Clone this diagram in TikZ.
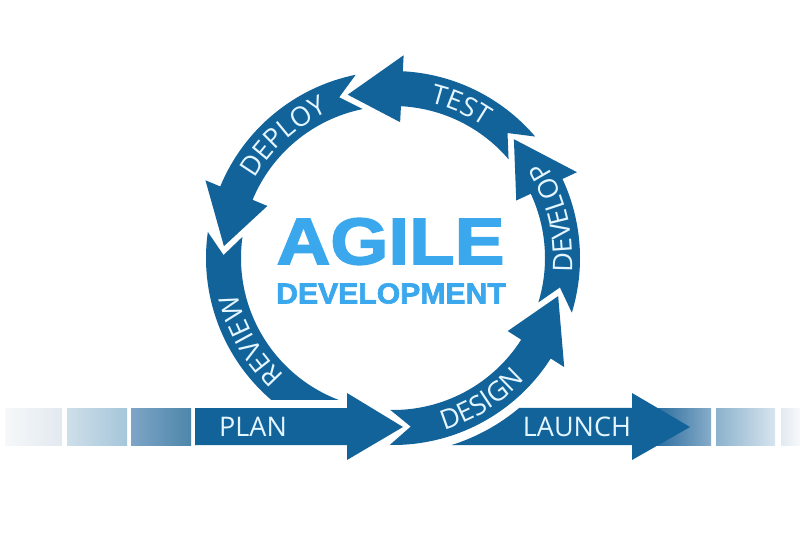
\documentclass[tikz,border=0pt]{standalone}
\usepackage{fontspec}
\setmainfont{Open Sans}
\newfontfamily\agilefont{Liberation Sans}[FakeBold=2.2]
\usetikzlibrary{decorations.text}
\definecolor{agileblue}{HTML}{13639B}
\definecolor{agilesky}{HTML}{3BA8EE}
\definecolor{labelc}{HTML}{E4F6FF}
\newcommand\lblfont{\fontsize{27}{27}\selectfont\color{labelc}}
\newcommand\cyclearrow[4]{\fill[band] (#1:187) arc[start angle=#1,end angle=#3,radius=187] -- (#3:203) -- (#4:169.5) -- (#3:136) -- (#3:152) arc[start angle=#3,end angle=#1,radius=152] -- (#2:169.5) -- cycle;}

\begin{document}
\begin{tikzpicture}[x=1pt,y=1pt,
  band/.style={fill=agileblue},
  ring label/.style={decorate,decoration={text along path,text={|\lblfont|#1},text align=center}},
  flat label/.style={text=labelc,font=\fontsize{27}{27}\selectfont}]
\fill[white] (0,0) rectangle (800,533);
\useasboundingbox (0,0) rectangle (800,533);
\shade[left color={rgb,255:red,246;green,248;blue,250},right color={rgb,255:red,226;green,233;blue,239}] (5,88) rectangle (62,125);
\shade[left color={rgb,255:red,206;green,223;blue,233},right color={rgb,255:red,165;green,198;blue,218}] (67,88) rectangle (127,125);
\shade[left color={rgb,255:red,125;green,165;blue,198},right color={rgb,255:red,78;green,134;blue,170}] (131,88) rectangle (191,125);
\shade[left color={rgb,255:red,45;green,110;blue,160},right color={rgb,255:red,135;green,172;blue,200}] (657,88) rectangle (711,125);
\shade[left color={rgb,255:red,140;green,178;blue,205},right color={rgb,255:red,215;green,228;blue,238}] (716,88) rectangle (775,125);
\shade[left color={rgb,255:red,226;green,233;blue,240},right color={rgb,255:red,248;green,249;blue,251}] (781,88) rectangle (800,125);
\fill[band] (195,125) -- (347,125) -- (347,140) -- (403,106) -- (347,73) -- (347,88) -- (195,88) -- cycle;
\begin{scope}[shift={(393,275)}]
\cyclearrow{-91}{-84}{-32.5}{-13}
\cyclearrow{-17}{-10}{25}{44.5}
\cyclearrow{40.5}{47.5}{87}{105.5}
\cyclearrow{101.5}{108.5}{157.5}{176}
\fill[band] (172:187) arc[start angle=172,end angle=229.4,radius=187] -- (249.1:152) arc[start angle=249.1,end angle=172,radius=152] -- (179:169.5) -- cycle;
\fill[band] (-49.9:196) -- (239,-150) -- (239,-135) -- (297,-169) -- (239,-202) -- (239,-187) -- (-72.6:196) arc[start angle=-72.6,end angle=-49.9,radius=196] -- cycle;
\path[ring label=TEST] (96:159.5) arc[start angle=96,end angle=36,radius=159.5];
\path[ring label=DEPLOY] (162:159.5) arc[start angle=162,end angle=102,radius=159.5];
\path[ring label=REVIEW] (240:159.5) arc[start angle=240,end angle=180,radius=159.5];
\path[ring label=DEVELOP] (-31:179.5) arc[start angle=-31,end angle=59,radius=179.5];
\path[ring label=DESIGN] (-103:179.5) arc[start angle=-103,end angle=-13,radius=179.5];
\end{scope}
\node[flat label] (plan) at (253,106) {PLAN};
\node[flat label] (launch) at (577,106) {LAUNCH};
\node[text=agilesky,font=\agilefont\bfseries\fontsize{66}{66}\selectfont] (agile) at (390.5,291.5) {\scalebox{1.13}[1]{AGILE}};
\node[text=agilesky,font=\agilefont\bfseries\fontsize{29}{29}\selectfont] (devt) at (391,239.5) {\scalebox{1.04}[1]{DEVELOPMENT}};
\end{tikzpicture}
\end{document}
